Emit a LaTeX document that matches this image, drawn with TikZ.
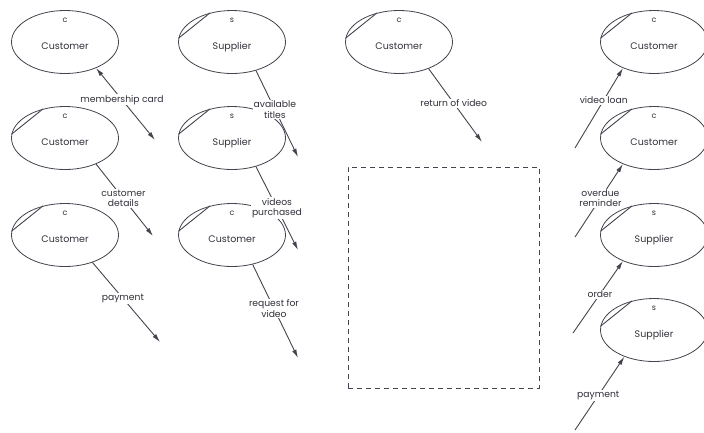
\documentclass[tikz,border=0pt]{standalone}
\usepackage{fontspec}
\setmainfont{Poppins}
\usetikzlibrary{%
    arrows.meta,
    shapes.geometric
}
\definecolor{inkline}{HTML}{44444F}
\definecolor{inktext}{HTML}{30303A}
\tikzset{headarrow/.style = {-{Latex[length=8.5pt,width=4.5pt]}}}
\tikzset{bothheads/.style = {{Latex[length=8.5pt,width=4.5pt]}-{Latex[length=8.5pt,width=4.5pt]}}}
\tikzset{entity/.style = {ellipse, draw=inkline, line width=0.8pt,
    minimum width=107pt, minimum height=63pt, text=inktext,
    text height=15pt, text depth=0pt,
    font=\fontsize{9.5}{11}\selectfont}}
\tikzset{kindmark/.style = {anchor=north, inner sep=0pt, yshift=-7pt,
    text=inktext, font=\fontsize{8}{9}\selectfont}}
\tikzset{kind/.style = {label={[kindmark]north:#1}}}
\tikzset{flowlabel/.style = {fill=white, inner sep=1pt, align=center,
    text=inktext, font=\fontsize{9.2}{10.5}\selectfont}}

\begin{document}
\begin{tikzpicture}[x=1pt, y=-1pt, line width=0.9pt, draw=inkline]
    \useasboundingbox (0,0) rectangle (704,432);

    \node[entity,kind=c] (c1) at (65,42) {Customer};
    \node[entity,kind=s] (s1) at (232,42) {Supplier};
    \node[entity,kind=c] (c2) at (399,42) {Customer};
    \node[entity,kind=c] (c3) at (654,42) {Customer};
    \node[entity,kind=c] (c4) at (65,138) {Customer};
    \node[entity,kind=s] (s2) at (232,138) {Supplier};
    \node[entity,kind=c] (c5) at (65,235) {Customer};
    \node[entity,kind=c] (c6) at (232,235) {Customer};
    \node[entity,kind=c] (c7) at (654,138) {Customer};
    \node[entity,kind=s] (s3) at (654,235) {Supplier};
    \node[entity,kind=s] (s4) at (654,330) {Supplier};

    % duplicate marks
    \foreach \x in {s1,c2,c3,c4,s2,c5,c6,c7,s3,s4}
    \draw[inkline] (\x.176) -- (\x.127);

    \node[draw=inkline, dash pattern=on 5pt off 4pt, minimum width=191pt,
        minimum height=221pt, inner sep=0pt] (sys) at (443.5,277.5) {};

    % free ends
    \coordinate (card) at (155,140);
    \coordinate (titles) at (298,157);
    \coordinate (return) at (482,142);
    \coordinate (loan) at (575,148);
    \coordinate (details) at (153,236);
    \coordinate (bought) at (298,250);
    \coordinate (paid) at (160,342);
    \coordinate (request) at (298,358);
    \coordinate (overdue) at (575,237);
    \coordinate (order) at (573,333);
    \coordinate (payout) at (575,430);

    \draw[bothheads,inkline] (c1.-40) -- node[flowlabel,pos=0.44] {membership card} (card);

    \foreach \from/\to/\where/\Label in {%
        s1.-50/titles/0.45/available\\titles,
        c2.-42/return/0.47/return of video,
        loan/c3.220/0.6/video loan,
        c4.-40/details/0.48/customer\\details,
        s2.-50/bought/0.5/videos\\purchased,
        c5.-45/paid/0.45/payment,
        c6.-55/request/0.47/request for\\video,
        overdue/c7.220/0.53/overdue\\reminder,
        order/s3.220/0.54/order,
        payout/s4.222/0.47/payment%
        }
    \draw[headarrow,inkline] (\from) -- node[flowlabel,pos=\where] {\Label} (\to);
\end{tikzpicture}
\end{document}
